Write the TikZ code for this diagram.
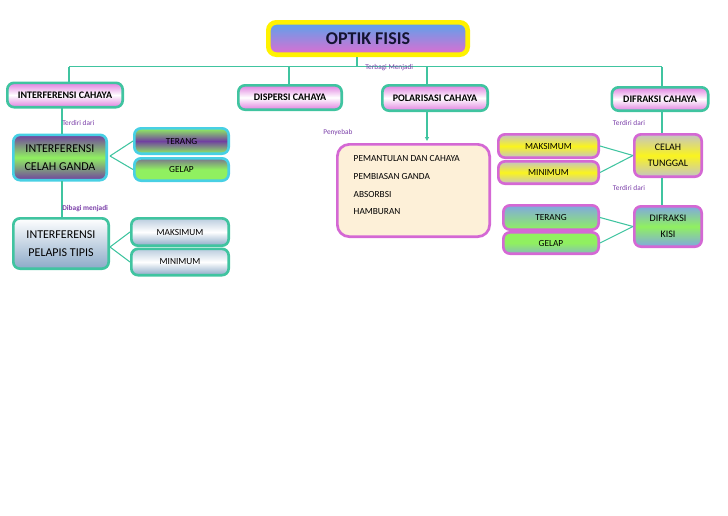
\documentclass[tikz,border=0pt]{standalone}
\usepackage{fontspec}
\setmainfont{Carlito}
\usetikzlibrary{arrows.meta}

\definecolor{tosca}{HTML}{40C4A0}
\definecolor{toska}{HTML}{48D0E4}
\definecolor{pinkgaris}{HTML}{D468D4}
\definecolor{merahmuda}{HTML}{E080E0}
\definecolor{ungu}{HTML}{7040A0}
\definecolor{hijau}{HTML}{90F060}
\definecolor{biru}{HTML}{80A8E0}
\definecolor{biruabu}{HTML}{8CAAC8}
\definecolor{kuning}{HTML}{FAF41E}
\definecolor{abu}{HTML}{C4C4C4}
\definecolor{krem}{HTML}{FDF0D8}
\definecolor{label}{HTML}{7A3EA8}
\definecolor{judulbiru}{HTML}{58A4EC}
\definecolor{judulpink}{HTML}{E06CD0}

% ukuran kotak dalam piksel gambar
\tikzset{
  ukuran/.style 2 args={minimum width=#1*0.75pt-2pt, minimum height=#2*0.75pt-2pt},
  kotak/.style={draw, rounded corners=5pt, line width=2pt, align=center, inner sep=1pt,
    font=\fontsize{7}{9}\selectfont},
  utama/.style={kotak, draw=tosca, top color=merahmuda, bottom color=merahmuda, middle color=white,
    font=\bfseries\fontsize{7.5}{9}\selectfont},
  hijauungu/.style={kotak, draw=toska},
  biruputih/.style={kotak, draw=tosca},
  kuningabu/.style={kotak, draw=pinkgaris, top color=abu, bottom color=abu, middle color=kuning},
  biruhijau/.style={kotak, draw=pinkgaris},
  ket/.style={font=\fontsize{5.5}{6}\selectfont, text=label, inner sep=0pt},
  garis/.style={draw=tosca, line width=0.8pt},
}

\begin{document}
\begin{tikzpicture}[x=0.75pt,y=-0.75pt]
    \useasboundingbox (0,0) rectangle (728,515);

    % judul
    \node[draw=yellow, line width=3.5pt, rounded corners=6pt, top color=judulbiru, bottom color=judulpink,
      minimum width=204*0.75pt-3.5pt, minimum height=37*0.75pt-3.5pt, font=\bfseries\fontsize{13.5}{15}\selectfont,
      text={rgb,255:red,20;green,20;blue,50}] (optik) at (368,38.5) {OPTIK FISIS};

    \coordinate (T0) at (357,66.5);
    \coordinate (TL) at (69,66.5);
    \coordinate (TR) at (662,66.5);
    \draw[garis] (optik.south -| T0)--(T0);
    \draw[garis] (TL)--(TR);
    \node[ket, anchor=west] (terbagi) at (365,68) {Terbagi Menjadi};

    % cabang utama
    \node[utama, ukuran={118}{27}] (interferensi) at (65,95) {INTERFERENSI CAHAYA};
    \node[utama, ukuran={106}{27}] (dispersi) at (290,97.5) {DISPERSI CAHAYA};
    \node[utama, ukuran={108}{28}] (polarisasi) at (435,98) {POLARISASI CAHAYA};
    \node[utama, ukuran={99}{26}] (difraksi) at (660,99) {DIFRAKSI CAHAYA};

    \draw[garis] (TL)--(TL |- interferensi.north);
    \draw[garis] (289,66.5)--(289 ,84);
    \draw[garis] (427,66.5)--(427,84);
    \draw[garis] (TR)--(TR |- difraksi.north);

    % interferensi
    \node[hijauungu, top color=ungu, bottom color=ungu, middle color=hijau, ukuran={96}{48},
      font=\fontsize{9}{13}\selectfont] (ganda) at (60,157.5) {INTERFERENSI\\CELAH GANDA};
    \node[hijauungu, top color=hijau, bottom color=hijau, middle color=ungu, ukuran={97}{28}] (terang1) at (181.5,141) {TERANG};
    \node[hijauungu, top color=ungu!70!hijau, bottom color=hijau, middle color=hijau, ukuran={97}{25}] (gelap1) at (181.5,169.5) {GELAP};
    \draw[garis] (62,108)--(62,134);
    \node[ket, anchor=west] (terdiri1) at (62,123) {Terdiri dari};
    \draw[garis] (110,156)--(terang1.west);
    \draw[garis] (110,156)--(gelap1.west);

    \node[biruputih, top color=white, bottom color=biruabu, ukuran={98}{53},
      font=\fontsize{9}{13}\selectfont] (pelapis) at (61,243.5) {INTERFERENSI\\PELAPIS TIPIS};
    \node[biruputih, top color=biruabu!60, bottom color=biruabu, middle color=white, ukuran={100}{30}] (maks1) at (180,232) {MAKSIMUM};
    \node[biruputih, top color=biruabu!60, bottom color=biruabu, middle color=white, ukuran={100}{29}] (min1) at (180,262) {MINIMUM};
    \draw[garis] (62,181)--(62,217);
    \node[ket, anchor=west, font=\bfseries\fontsize{5.5}{6}\selectfont] (dibagi) at (62,209) {Dibagi menjadi};
    \draw[garis] (110,247)--(maks1.west);
    \draw[garis] (110,247)--(min1.west);

    % polarisasi
    \node[ket] (penyebab) at (338,133) {Penyebab};
    \node[kotak, draw=pinkgaris, fill=krem, rounded corners=9pt, ukuran={155}{95}] (sebab) at (413.5,190.5) {};
    \draw[garis, -{Triangle[length=3pt,width=3pt]}] (427,112)--(427,141);
    \node[anchor=west, font=\fontsize{7}{8}\selectfont] (pantul) at (349,159) {PEMANTULAN DAN CAHAYA};
    \node[anchor=west, font=\fontsize{7}{8}\selectfont] (bias) at (349,176.5) {PEMBIASAN GANDA};
    \node[anchor=west, font=\fontsize{7}{8}\selectfont] (absorbsi) at (349,194) {ABSORBSI};
    \node[anchor=west, font=\fontsize{7}{8}\selectfont] (hambur) at (349,211.5) {HAMBURAN};

    % difraksi
    \node[kuningabu, ukuran={103}{26}] (maks2) at (548.5,146) {MAKSIMUM};
    \node[kuningabu, ukuran={103}{25}] (min2) at (548.5,172.5) {MINIMUM};
    \node[kuningabu, ukuran={70}{45}, font=\fontsize{7.5}{12}\selectfont] (tunggal) at (668,155.5) {CELAH\\TUNGGAL};
    \draw[garis] (662,112)--(662,133);
    \node[ket] (terdiri2) at (629,123) {Terdiri dari};
    \draw[garis] (maks2.east)--(tunggal.west);
    \draw[garis] (min2.east)--(tunggal.west);

    \node[biruhijau, top color=biru, bottom color=hijau, ukuran={98}{27}] (terang2) at (551,217.5) {TERANG};
    \node[biruhijau, top color=hijau, bottom color=biru!70!hijau, middle color=hijau, ukuran={98}{24}] (gelap2) at (551,243) {GELAP};
    \node[biruhijau, top color=biru, bottom color=biru, middle color=hijau, ukuran={70}{43}, font=\fontsize{7.5}{12}\selectfont] (kisi) at (668,226.5) {DIFRAKSI\\KISI};
    \draw[garis] (662,178)--(662,205);
    \node[ket] (terdiri3) at (629,188) {Terdiri dari};
    \draw[garis] (terang2.east)--(kisi.west);
    \draw[garis] (gelap2.east)--(kisi.west);

\end{tikzpicture}
\end{document}
